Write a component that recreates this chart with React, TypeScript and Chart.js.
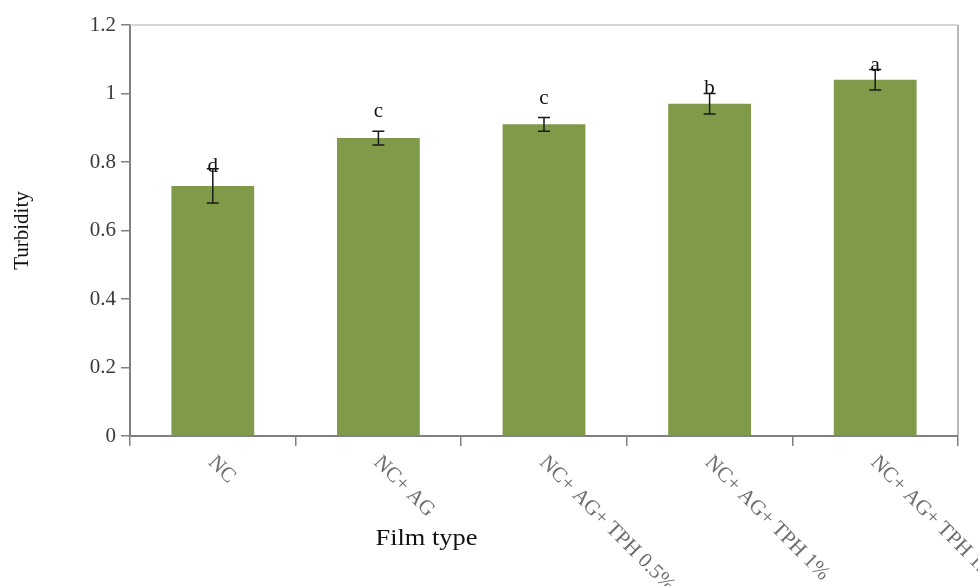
import React, { useEffect, useRef } from "react";
import { Chart, registerables } from "chart.js";

Chart.register(...registerables);

const categories = ["NC", "NC+ AG", "NC+ AG+ TPH 0.5%", "NC+ AG+ TPH 1%", "NC+ AG+ TPH 1.5%"];
const turbidity = [0.73, 0.87, 0.91, 0.97, 1.04];
const errors = [0.05, 0.02, 0.02, 0.03, 0.03];
const letters = ["d", "c", "c", "b", "a"];
const letterLevels = [0.77, 0.93, 0.97, 1.0, 1.065];
const yTicks = [0, 0.2, 0.4, 0.6, 0.8, 1, 1.2];

const SERIF = "'Liberation Serif', 'Times New Roman', serif";

const decorPlugin = {
  id: "decor",
  afterDatasetsDraw(chart: any) {
    const { ctx, chartArea, scales } = chart;
    const y = scales.y;
    const x = scales.x;
    const meta = chart.getDatasetMeta(0);
    ctx.save();
    // frame top and right
    ctx.strokeStyle = "#c8c8c8";
    ctx.lineWidth = 1.5;
    ctx.beginPath();
    ctx.moveTo(chartArea.left, chartArea.top);
    ctx.lineTo(chartArea.right, chartArea.top);
    ctx.stroke();
    ctx.strokeStyle = "#a0a0a0";
    ctx.beginPath();
    ctx.moveTo(chartArea.right, chartArea.top);
    ctx.lineTo(chartArea.right, chartArea.bottom);
    ctx.stroke();

    // error bars
    ctx.strokeStyle = "#1a1a1a";
    ctx.lineWidth = 1.5;
    meta.data.forEach((bar: any, i: number) => {
      const cx = bar.x;
      const top = y.getPixelForValue(turbidity[i] + errors[i]);
      const bot = y.getPixelForValue(turbidity[i] - errors[i]);
      ctx.beginPath();
      ctx.moveTo(cx, top);
      ctx.lineTo(cx, bot);
      ctx.moveTo(cx - 6, top);
      ctx.lineTo(cx + 6, top);
      ctx.moveTo(cx - 6, bot);
      ctx.lineTo(cx + 6, bot);
      ctx.stroke();
    });

    // letters
    ctx.fillStyle = "#111";
    ctx.font = `21px ${SERIF}`;
    ctx.textAlign = "center";
    ctx.textBaseline = "alphabetic";
    meta.data.forEach((bar: any, i: number) => {
      ctx.fillText(letters[i], bar.x, y.getPixelForValue(letterLevels[i]));
    });

    // rotated x labels
    ctx.fillStyle = "#6e6e6e";
    ctx.font = `21px ${SERIF}`;
    ctx.textAlign = "left";
    ctx.textBaseline = "top";
    categories.forEach((c, i) => {
      const px = x.getPixelForValue(i);
      ctx.save();
      ctx.translate(px + 6, chartArea.bottom + 16);
      ctx.rotate(Math.PI / 4);
      ctx.fillText(c, 0, 0);
      ctx.restore();
    });

    // x title
    ctx.fillStyle = "#111";
    ctx.font = `24px ${SERIF}`;
    ctx.textAlign = "center";
    ctx.textBaseline = "middle";
    ctx.save();
    ctx.translate(chartArea.left + (chartArea.right - chartArea.left) * 0.358, chartArea.bottom + 103);
    ctx.scale(1.1, 1);
    ctx.fillText("Film type", 0, 0);
    ctx.restore();
    ctx.restore();
  },
};

function App() {
  const ref = useRef<HTMLCanvasElement | null>(null);
  useEffect(() => {
    if (!ref.current) return;
    const chart = new Chart(ref.current, {
      type: "bar",
      data: {
        labels: categories,
        datasets: [
          {
            data: turbidity,
            backgroundColor: "#7f9b49",
            barPercentage: 0.5,
            categoryPercentage: 1,
          },
        ],
      },
      options: {
        animation: false,
        responsive: false,
        maintainAspectRatio: false,
        layout: { padding: { left: 0, right: 20, top: 25, bottom: 0 } },
        plugins: { legend: { display: false }, tooltip: { enabled: false } },
        scales: {
          x: {
            offset: true,
            grid: {
              offset: true,
              display: true,
              drawOnChartArea: false,
              drawTicks: true,
              tickLength: 10,
              color: "#808080",
              lineWidth: 1.5,
            },
            border: { display: true, color: "#808080", width: 2 },
            ticks: { display: false },
            afterFit: (s: any) => {
              s.height = 150;
            },
          },
          y: {
            min: 0,
            max: 1.2,
            afterBuildTicks: (s: any) => {
              s.ticks = yTicks.map((v) => ({ value: v }));
            },
            grid: {
              display: true,
              drawOnChartArea: false,
              drawTicks: true,
              tickLength: 9,
              color: "#808080",
              lineWidth: 1.5,
            },
            border: { display: true, color: "#808080", width: 2 },
            ticks: {
              color: "#3a3a3a",
              font: { family: SERIF, size: 21 },
              padding: 5,
              callback: (v: any) => String(Number(v)),
            },
            title: {
              display: true,
              text: "Turbidity",
              color: "#111",
              font: { family: SERIF, size: 21 },
              padding: { top: 10, bottom: 0 },
            },
            afterFit: (s: any) => {
              s.width = 130;
            },
          },
        },
      },
      plugins: [decorPlugin],
    });
    return () => chart.destroy();
  }, []);
  return (
    <div style={{ position: "fixed", left: 0, top: 0, width: 978, height: 586, background: "#fff" }}>
      <canvas ref={ref} width={978} height={586} style={{ display: "block" }} />
    </div>
  );
}

export default App;
